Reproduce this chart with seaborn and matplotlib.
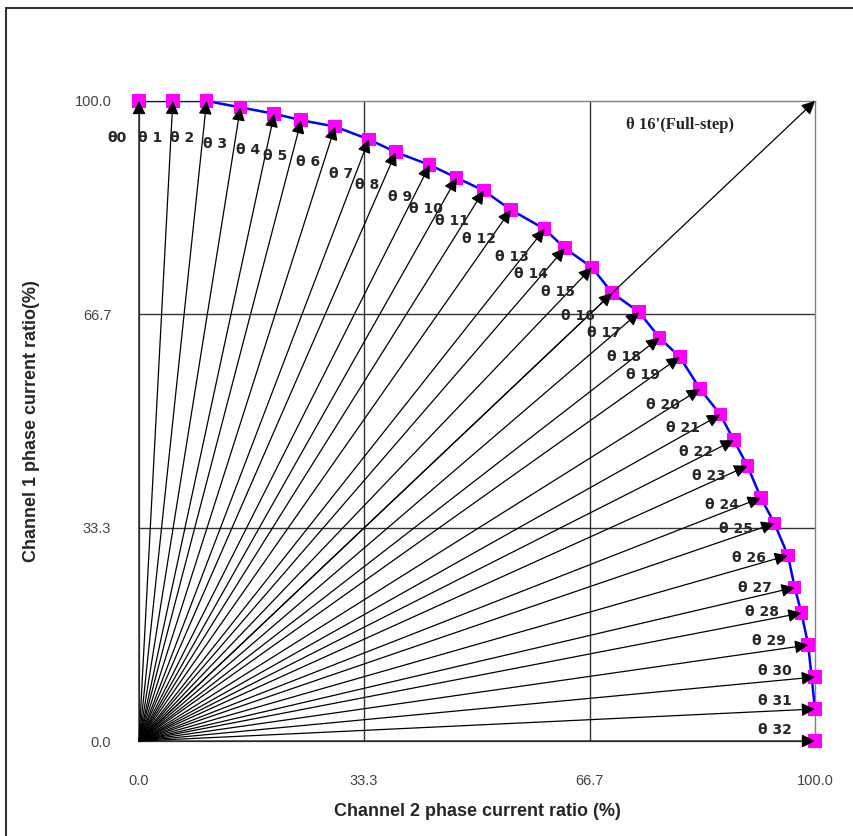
import matplotlib
matplotlib.use("Agg")
import matplotlib.pyplot as plt
import seaborn as sns
import pandas as pd
from matplotlib.lines import Line2D

# microstep positions theta0..theta32 (% of full current)
step = list(range(33))
ch2 = [0, 5, 10, 15, 20, 24, 29, 34, 38, 43, 47, 51, 55, 60, 63, 67, 70,
       74, 77, 80, 83, 86, 88, 90, 92, 94, 96, 97, 98, 99, 100, 100, 100]
ch1 = [100, 100, 100, 99, 98, 97, 96, 94, 92, 90, 88, 86, 83, 80, 77, 74, 70,
       67, 63, 60, 55, 51, 47, 43, 38, 34, 29, 24, 20, 15, 10, 5, 0]
full_step = (100, 100)
ticks = [0.0, 33.3, 66.7, 100.0]

df = pd.DataFrame({"step": step, "ch2": ch2, "ch1": ch1})

sns.set_style("white")
plt.rcParams["font.family"] = ["Liberation Sans", "DejaVu Sans"]

fig = plt.figure(figsize=(8.54, 8.36), dpi=100)
ax = fig.add_axes([0.1628, 0.1136, 0.7915, 0.7656])

# curve + markers
sns.lineplot(data=df, x="ch2", y="ch1", sort=False, color="blue", lw=1.8,
             ax=ax, zorder=3)
sns.scatterplot(data=df, x="ch2", y="ch1", marker="s", color="magenta",
                s=95, edgecolor="none", ax=ax, zorder=4, clip_on=False)

arrow_kw = dict(arrowstyle="-|>", color="black", lw=0.9,
                mutation_scale=20, shrinkA=0, shrinkB=0)

# arrows from origin
for i in range(len(step)):
    ax.annotate("", xy=(ch2[i], ch1[i]), xytext=(0, 0),
                arrowprops=arrow_kw, zorder=5, annotation_clip=False)
    lab = "θ%d" % i if i == 0 else "θ %d" % i
    ax.text(0.974 * ch2[i] - 3.3, 0.925 * ch1[i] + 1.7, lab,
            ha="center", va="center", fontsize=10, fontweight="bold",
            family=["DejaVu Sans"], zorder=6, clip_on=False)

ax.annotate("", xy=full_step, xytext=(0, 0),
            arrowprops=arrow_kw, zorder=5, annotation_clip=False)
ax.text(80, 96.2, "θ 16'(Full-step)", ha="center", va="center",
        fontsize=12, fontweight="bold",
        family=["Liberation Serif", "DejaVu Serif"])

ax.set_xlim(0, 100)
ax.set_ylim(0, 100)
ax.set_xticks(ticks)
ax.set_yticks(ticks)
ax.set_xticklabels(["%.1f" % t for t in ticks])
ax.set_yticklabels(["%.1f" % t for t in ticks])
ax.tick_params(axis="both", length=0, labelsize=10.5, colors="#444444")
ax.tick_params(axis="x", pad=24)
ax.tick_params(axis="y", pad=20)

for v in [33.3, 66.7]:
    ax.axvline(v, color="#333333", lw=1.0, zorder=1)
    ax.axhline(v, color="#333333", lw=1.0, zorder=1)
for sp in ax.spines.values():
    sp.set_color("#808080")
    sp.set_linewidth(1.0)

ax.set_xlabel("Channel 2 phase current ratio (%)", fontsize=13,
              fontweight="bold")
ax.set_ylabel("Channel 1 phase current ratio(%)", fontsize=13,
              fontweight="bold")
ax.xaxis.set_label_coords(0.5, -0.097)
ax.yaxis.set_label_coords(-0.146, 0.5)

# outer frame (left and top edges)
fig.add_artist(Line2D([6.5 / 854, 6.5 / 854], [0, 1 - 8 / 836],
                      transform=fig.transFigure, color="#333333", lw=1.5))
fig.add_artist(Line2D([6.5 / 854, 1], [1 - 8 / 836, 1 - 8 / 836],
                      transform=fig.transFigure, color="#333333", lw=1.5))

fig.savefig("out.png", dpi=100)
